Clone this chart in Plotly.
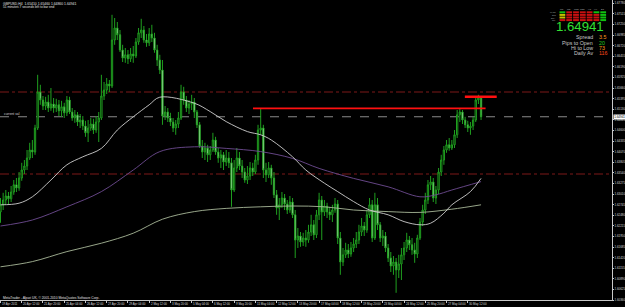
import plotly.graph_objects as go

# ---------------- data (GBPUSD H4) ----------------
bars = list(range(182))
opens = [1.6256,1.6274,1.6286,1.6296,1.6289,1.6306,1.6324,1.6316,1.6341,1.6361,
1.6371,1.6391,1.6411,1.6406,1.6466,1.6556,1.6536,1.6521,1.6531,1.6516,
1.6526,1.6516,1.6524,1.6509,1.6519,1.6504,1.6536,1.6506,1.6491,1.6499,
1.6481,1.6486,1.6471,1.6454,1.6466,1.6476,1.6461,1.6481,1.6491,1.6546,
1.6561,1.6576,1.6571,1.6686,1.6716,1.6699,1.6661,1.6641,1.6649,1.6639,
1.6651,1.6646,1.6681,1.6704,1.6711,1.6686,1.6679,1.6701,1.6691,1.6661,
1.6636,1.6611,1.6496,1.6506,1.6491,1.6481,1.6466,1.6476,1.6491,1.6556,
1.6536,1.6516,1.6526,1.6531,1.6506,1.6474,1.6421,1.6406,1.6416,1.6399,
1.6411,1.6436,1.6406,1.6391,1.6399,1.6381,1.6391,1.6379,1.6311,1.6366,
1.6391,1.6371,1.6356,1.6336,1.6346,1.6366,1.6356,1.6386,1.6461,1.6466,
1.6361,1.6349,1.6366,1.6341,1.6299,1.6266,1.6274,1.6291,1.6276,1.6261,
1.6281,1.6249,1.6186,1.6196,1.6181,1.6191,1.6186,1.6206,1.6224,1.6199,
1.6249,1.6286,1.6256,1.6271,1.6256,1.6249,1.6261,1.6276,1.6191,1.6131,
1.6149,1.6161,1.6151,1.6166,1.6176,1.6186,1.6206,1.6221,1.6211,1.6249,
1.6274,1.6191,1.6274,1.6224,1.6191,1.6196,1.6166,1.6141,1.6121,1.6131,
1.6111,1.6126,1.6149,1.6166,1.6186,1.6174,1.6161,1.6151,1.6191,1.6231,
1.6261,1.6286,1.6324,1.6331,1.6291,1.6311,1.6356,1.6386,1.6411,1.6424,
1.6416,1.6424,1.6449,1.6499,1.6506,1.6486,1.6474,1.6466,1.6471,1.6486,
1.6536,1.6541]
highs = [1.6291,1.6304,1.6311,1.6306,1.6321,1.6336,1.6341,1.6356,1.6379,1.6386,
1.6411,1.6429,1.6436,1.6474,1.6599,1.6574,1.6546,1.6544,1.6549,1.6566,
1.6541,1.6539,1.6536,1.6534,1.6529,1.6546,1.6544,1.6516,1.6511,1.6506,
1.6501,1.6496,1.6484,1.6486,1.6491,1.6489,1.6496,1.6506,1.6599,1.6581,
1.6591,1.6586,1.6749,1.6741,1.6731,1.6711,1.6674,1.6666,1.6661,1.6666,
1.6671,1.6691,1.6716,1.6739,1.6721,1.6701,1.6716,1.6724,1.6704,1.6674,
1.6649,1.6636,1.6521,1.6516,1.6504,1.6491,1.6486,1.6506,1.6574,1.6569,
1.6546,1.6536,1.6549,1.6541,1.6511,1.6481,1.6436,1.6429,1.6424,1.6421,
1.6454,1.6444,1.6416,1.6411,1.6406,1.6411,1.6406,1.6391,1.6386,1.6416,
1.6406,1.6386,1.6366,1.6371,1.6381,1.6379,1.6399,1.6474,1.6516,1.6474,
1.6379,1.6381,1.6374,1.6356,1.6311,1.6291,1.6306,1.6301,1.6286,1.6296,
1.6291,1.6261,1.6216,1.6206,1.6204,1.6211,1.6224,1.6249,1.6236,1.6261,
1.6304,1.6296,1.6286,1.6279,1.6269,1.6274,1.6291,1.6286,1.6206,1.6166,
1.6179,1.6176,1.6181,1.6191,1.6206,1.6224,1.6241,1.6231,1.6261,1.6291,
1.6286,1.6304,1.6291,1.6231,1.6211,1.6206,1.6176,1.6156,1.6146,1.6141,
1.6149,1.6166,1.6181,1.6204,1.6196,1.6191,1.6179,1.6199,1.6241,1.6274,
1.6304,1.6336,1.6346,1.6341,1.6321,1.6366,1.6399,1.6421,1.6436,1.6441,
1.6436,1.6461,1.6511,1.6516,1.6511,1.6494,1.6484,1.6481,1.6494,1.6546,
1.6549,1.6546]
lows = [1.6229,1.6261,1.6274,1.6276,1.6281,1.6299,1.6306,1.6309,1.6334,1.6351,
1.6361,1.6386,1.6391,1.6399,1.6461,1.6524,1.6511,1.6511,1.6506,1.6509,
1.6504,1.6506,1.6496,1.6494,1.6491,1.6496,1.6501,1.6484,1.6479,1.6471,
1.6466,1.6461,1.6444,1.6431,1.6459,1.6451,1.6454,1.6431,1.6486,1.6536,
1.6551,1.6556,1.6566,1.6674,1.6686,1.6656,1.6631,1.6629,1.6626,1.6631,
1.6629,1.6641,1.6674,1.6691,1.6679,1.6669,1.6671,1.6681,1.6654,1.6621,
1.6601,1.6474,1.6486,1.6481,1.6471,1.6456,1.6449,1.6466,1.6486,1.6524,
1.6506,1.6501,1.6511,1.6491,1.6466,1.6416,1.6391,1.6386,1.6381,1.6386,
1.6406,1.6399,1.6379,1.6366,1.6361,1.6371,1.6366,1.6269,1.6306,1.6356,
1.6361,1.6341,1.6329,1.6326,1.6336,1.6346,1.6351,1.6374,1.6449,1.6341,
1.6331,1.6341,1.6324,1.6291,1.6249,1.6236,1.6266,1.6261,1.6251,1.6254,
1.6241,1.6141,1.6166,1.6169,1.6171,1.6169,1.6179,1.6196,1.6186,1.6191,
1.6236,1.6186,1.6246,1.6241,1.6236,1.6231,1.6254,1.6176,1.6099,1.6121,
1.6141,1.6141,1.6144,1.6156,1.6166,1.6176,1.6196,1.6196,1.6204,1.6241,
1.6181,1.6186,1.6211,1.6181,1.6171,1.6156,1.6131,1.6106,1.6099,1.6054,
1.6091,1.6086,1.6136,1.6156,1.6161,1.6149,1.6129,1.6141,1.6186,1.6221,
1.6251,1.6276,1.6311,1.6281,1.6276,1.6301,1.6346,1.6374,1.6404,1.6409,
1.6411,1.6416,1.6441,1.6481,1.6476,1.6466,1.6456,1.6449,1.6461,1.6481,
1.6526,1.6486]
closes = [1.6274,1.6286,1.6296,1.6289,1.6306,1.6324,1.6316,1.6341,1.6361,1.6371,
1.6391,1.6411,1.6406,1.6466,1.6556,1.6536,1.6521,1.6531,1.6516,1.6526,
1.6516,1.6524,1.6509,1.6519,1.6504,1.6536,1.6506,1.6491,1.6499,1.6481,
1.6486,1.6471,1.6454,1.6466,1.6476,1.6461,1.6481,1.6491,1.6546,1.6561,
1.6576,1.6571,1.6686,1.6716,1.6699,1.6661,1.6641,1.6649,1.6639,1.6651,
1.6646,1.6681,1.6704,1.6711,1.6686,1.6679,1.6701,1.6691,1.6661,1.6636,
1.6611,1.6496,1.6506,1.6491,1.6481,1.6466,1.6476,1.6491,1.6556,1.6536,
1.6516,1.6526,1.6531,1.6506,1.6474,1.6421,1.6406,1.6416,1.6399,1.6411,
1.6436,1.6406,1.6391,1.6399,1.6381,1.6391,1.6379,1.6311,1.6366,1.6391,
1.6371,1.6356,1.6336,1.6346,1.6366,1.6356,1.6386,1.6461,1.6466,1.6361,
1.6349,1.6366,1.6341,1.6299,1.6266,1.6274,1.6291,1.6276,1.6261,1.6281,
1.6249,1.6186,1.6196,1.6181,1.6191,1.6186,1.6206,1.6224,1.6199,1.6249,
1.6286,1.6256,1.6271,1.6256,1.6249,1.6261,1.6276,1.6191,1.6131,1.6149,
1.6161,1.6151,1.6166,1.6176,1.6186,1.6206,1.6221,1.6211,1.6249,1.6274,
1.6191,1.6274,1.6224,1.6191,1.6196,1.6166,1.6141,1.6121,1.6131,1.6111,
1.6126,1.6149,1.6166,1.6186,1.6174,1.6161,1.6151,1.6191,1.6231,1.6261,
1.6286,1.6324,1.6331,1.6291,1.6311,1.6356,1.6386,1.6411,1.6424,1.6416,
1.6424,1.6449,1.6499,1.6506,1.6486,1.6474,1.6466,1.6471,1.6486,1.6536,
1.6541,1.64941]

# moving averages (bar index, price)
ma_fast_x = [0,7,12,19,25,31,38,44,50,56,60,73,79,85,93,98,102,110,115,122,127,133,139,146,152,158,162,167,170,177,181]
ma_fast_y = [1.6274,1.6278,1.6294,1.6336,1.6374,1.6394,1.6415,1.6461,1.6494,1.6524,1.6543,1.6528,1.6507,1.6482,1.6457,
             1.6449,1.6436,1.6394,1.6361,1.6328,1.6307,1.6282,1.6261,1.6249,1.6232,1.6224,1.6228,1.6253,1.6274,1.6307,1.6340]
ma_mid_x = [0,12,25,38,50,60,73,85,98,110,120,133,146,158,164,170,181]
ma_mid_y = [1.6221,1.6236,1.6269,1.6307,1.6361,1.6407,1.6419,1.6415,1.6407,1.6390,1.6365,1.6340,1.6319,1.6294,1.6299,1.6311,1.6332]
ma_slow_x = [0,12,25,38,50,61,73,85,98,110,122,133,146,158,170,181]
ma_slow_y = [1.6119,1.6132,1.6157,1.6178,1.6203,1.6238,1.6257,1.6265,1.6269,1.6271,1.6269,1.6261,1.6257,1.6255,1.6263,1.6274]

# drawn objects
resist_x = [95.1, 182.7]
resist_y = [1.6515, 1.6515]
high_x = [174.9, 186.9]
high_y = [1.6544, 1.6544]
dashdot_levels = [1.6556, 1.6351]
bid_level = 1.64941

time_tick_bars = [0,8,16,24,32,40,48,56,64,72,80,88,96,104,112,120,128,136,144,152,160,168,176]
time_tick_text = ["19 Apr 2011","20 Apr 12:00","21 Apr 20:00","25 Apr 04:00","26 Apr 12:00","27 Apr 20:00",
                  "29 Apr 04:00","2 May 12:00","3 May 20:00","5 May 04:00","6 May 12:00","9 May 20:00",
                  "11 May 04:00","12 May 12:00","13 May 20:00","17 May 04:00","18 May 12:00","19 May 20:00",
                  "23 May 04:00","24 May 12:00","25 May 20:00","27 May 04:00","30 May 12:00"]
price_ticks = [1.67780,1.67515,1.67250,1.66985,1.66720,1.66455,1.66190,1.65925,1.65660,1.65395,
               1.65130,1.64865,1.64600,1.64335,1.64070,1.63805,1.63540,1.63275,1.63010,1.62745,
               1.62480,1.62215,1.61950,1.61685,1.61420,1.61155,1.60890,1.60625,1.60360]

# info panel
panel_tf = ["M1","M5","M15","M30","H1","H4","D1"]
panel_rows = ["MACD","STR","EMA","CCI"]
panel_signal = [["G","R","R","R","R","G","G"],
                ["Y","R","R","R","R","R","G"],
                ["Y","R","R","R","R","R","G"],
                ["R","R","R","R","R","R","G"]]
stat_labels = ["Spread","Pips to Open","Hi to Low","Daily Av"]
stat_values = ["3.5","20","73","116"]

# ---------------- figure ----------------
W, H = 625, 307
ML, MR, MT, MB = 0, 13, 0, 7
PW, PH = W - ML - MR, H - MT - MB
FONT = "Liberation Sans"
AX = "#c8c8c8"

def px(x):
    return x / PW

def py(y):
    return 1 - y / PH

fig = go.Figure()
fig.add_trace(go.Candlestick(
    x=bars, open=opens, high=highs, low=lows, close=closes,
    increasing=dict(line=dict(color="#1f9f1f", width=1), fillcolor="#000000"),
    decreasing=dict(line=dict(color="#1f9f1f", width=1), fillcolor="#e6ffe6"),
    whiskerwidth=0, showlegend=False, hoverinfo="skip"))

for xs, ys, col in [(ma_slow_x, ma_slow_y, "#a8b898"),
                    (ma_mid_x, ma_mid_y, "#6e4c92"),
                    (ma_fast_x, ma_fast_y, "#cfcfcf")]:
    fig.add_trace(go.Scatter(x=xs, y=ys, mode="lines", line=dict(color=col, width=0.9, shape="spline"),
                             showlegend=False, hoverinfo="skip"))

fig.add_trace(go.Scatter(x=resist_x, y=resist_y, mode="lines", line=dict(color="#ff1010", width=1.6),
                         showlegend=False, hoverinfo="skip"))
fig.add_trace(go.Scatter(x=high_x, y=high_y, mode="lines", line=dict(color="#ff1010", width=2.6),
                         showlegend=False, hoverinfo="skip", cliponaxis=False))

shapes = []
for lv in dashdot_levels:
    shapes.append(dict(type="line", xref="paper", x0=0, x1=1, yref="y", y0=lv, y1=lv,
                       line=dict(color="#8a1c1c", width=0.9, dash="dashdot"), layer="below"))
shapes.append(dict(type="line", xref="paper", x0=0, x1=1, yref="y", y0=bid_level, y1=bid_level,
                   line=dict(color="#9a9a9a", width=0.9, dash="dash"), layer="below"))

# signal grid
colmap = {"G": "#10c010", "R": "#c81010", "Y": "#c8c000"}
for r, row in enumerate(panel_signal):
    for c, s in enumerate(row):
        x0 = 559.5 + 6.8 * c
        y0 = 11.3 + 2.6 * r
        shapes.append(dict(type="rect", xref="paper", yref="paper",
                           x0=px(x0), x1=px(x0 + 5.8), y0=py(y0 + 2.0), y1=py(y0),
                           fillcolor=colmap[s], line=dict(width=0)))

ann = []
def txt(x, y, s, size, color, xanchor="left", yanchor="middle", **kw):
    ann.append(dict(x=px(x), y=py(y), xref="paper", yref="paper", text=s, showarrow=False,
                    xanchor=xanchor, yanchor=yanchor, borderpad=0,
                    font=dict(family=FONT, size=size, color=color), **kw))

txt(2, 3.8, f"GBPUSD,H4  {opens[-1]:.5f} {highs[-1]:.5f} {lows[-1]:.5f} {closes[-1]:.5f}", 3.4, "#e0e0e0")
txt(2, 6.8, "51 minutes 7 seconds left to bar end", 3.2, "#e0e0e0")
txt(2, 297.6, "MetaTrader - Alpari UK, \u00a9 2001-2010 MetaQuotes Software Corp.", 3.3, "#e0e0e0")
txt(3, 114.2, "current val", 3.3, "#d0d0d0")

for c, tf in enumerate(panel_tf):
    txt(559.5 + 6.8 * c + 2.9, 9.3, tf, 2.4, "#bbbbbb", xanchor="center")
for r, nm in enumerate(panel_rows):
    txt(557.0, 12.3 + 2.6 * r, nm, 1.9, "#aaaaaa", xanchor="right")

txt(605, 27.0, f"{closes[-1]:.5f}", 13.2, "#33e033", xanchor="right")
stat_colors = ["#ff9a1a", "#22cc22", "#ff9a1a", "#ff4a1a"]
for i, (lab, val) in enumerate(zip(stat_labels, stat_values)):
    yy = 37.4 + 5.2 * i
    txt(594, yy, lab, 5.3, "#c8c8c8", xanchor="right")
    txt(597.5, yy, val, 5.3, stat_colors[i])

# time labels (left-aligned at their bar, MetaTrader style)
for b, t in zip(time_tick_bars, time_tick_text):
    ann.append(dict(x=b, y=0, xref="x", yref="paper", text=t, showarrow=False, xanchor="left",
                    yanchor="top", xshift=0.5, yshift=-1.2, borderpad=0,
                    font=dict(family=FONT, size=2.9, color="#d8d8d8")))

# current price box on the price scale
ann.append(dict(x=1, y=bid_level, xref="paper", yref="y", text=f"{bid_level:.5f}", showarrow=False,
                xanchor="left", yanchor="middle", xshift=1, bgcolor="#ffffff", borderpad=0.2,
                font=dict(family=FONT, size=3.0, color="#000000")))

x_min = -0.19
x_max = x_min + PW / 2.655
y_top = 1.6786
y_bot = y_top - 0.00025 * PH

fig.update_layout(
    width=W, height=H, margin=dict(l=ML, r=MR, t=MT, b=MB, pad=0),
    paper_bgcolor="#000000", plot_bgcolor="#000000",
    showlegend=False, shapes=shapes, annotations=ann,
    font=dict(family=FONT, color=AX),
    xaxis=dict(range=[x_min, x_max], tickvals=time_tick_bars, showticklabels=False,
               ticks="outside", ticklen=1.5, tickcolor=AX, showline=True, linecolor=AX, linewidth=1,
               showgrid=False, zeroline=False, rangeslider=dict(visible=False), automargin=False,
               fixedrange=True),
    yaxis=dict(range=[y_bot, y_top], side="right", tickvals=price_ticks,
               ticktext=[f"{v:.5f}" for v in price_ticks], tickfont=dict(size=2.9, color="#d8d8d8", family=FONT),
               ticks="outside", ticklen=1, tickcolor=AX, showline=True, linecolor=AX, linewidth=1,
               mirror=True, showgrid=False, zeroline=False, automargin=False, ticklabelstandoff=0,
               fixedrange=True),
)

fig.write_html("out.html")
